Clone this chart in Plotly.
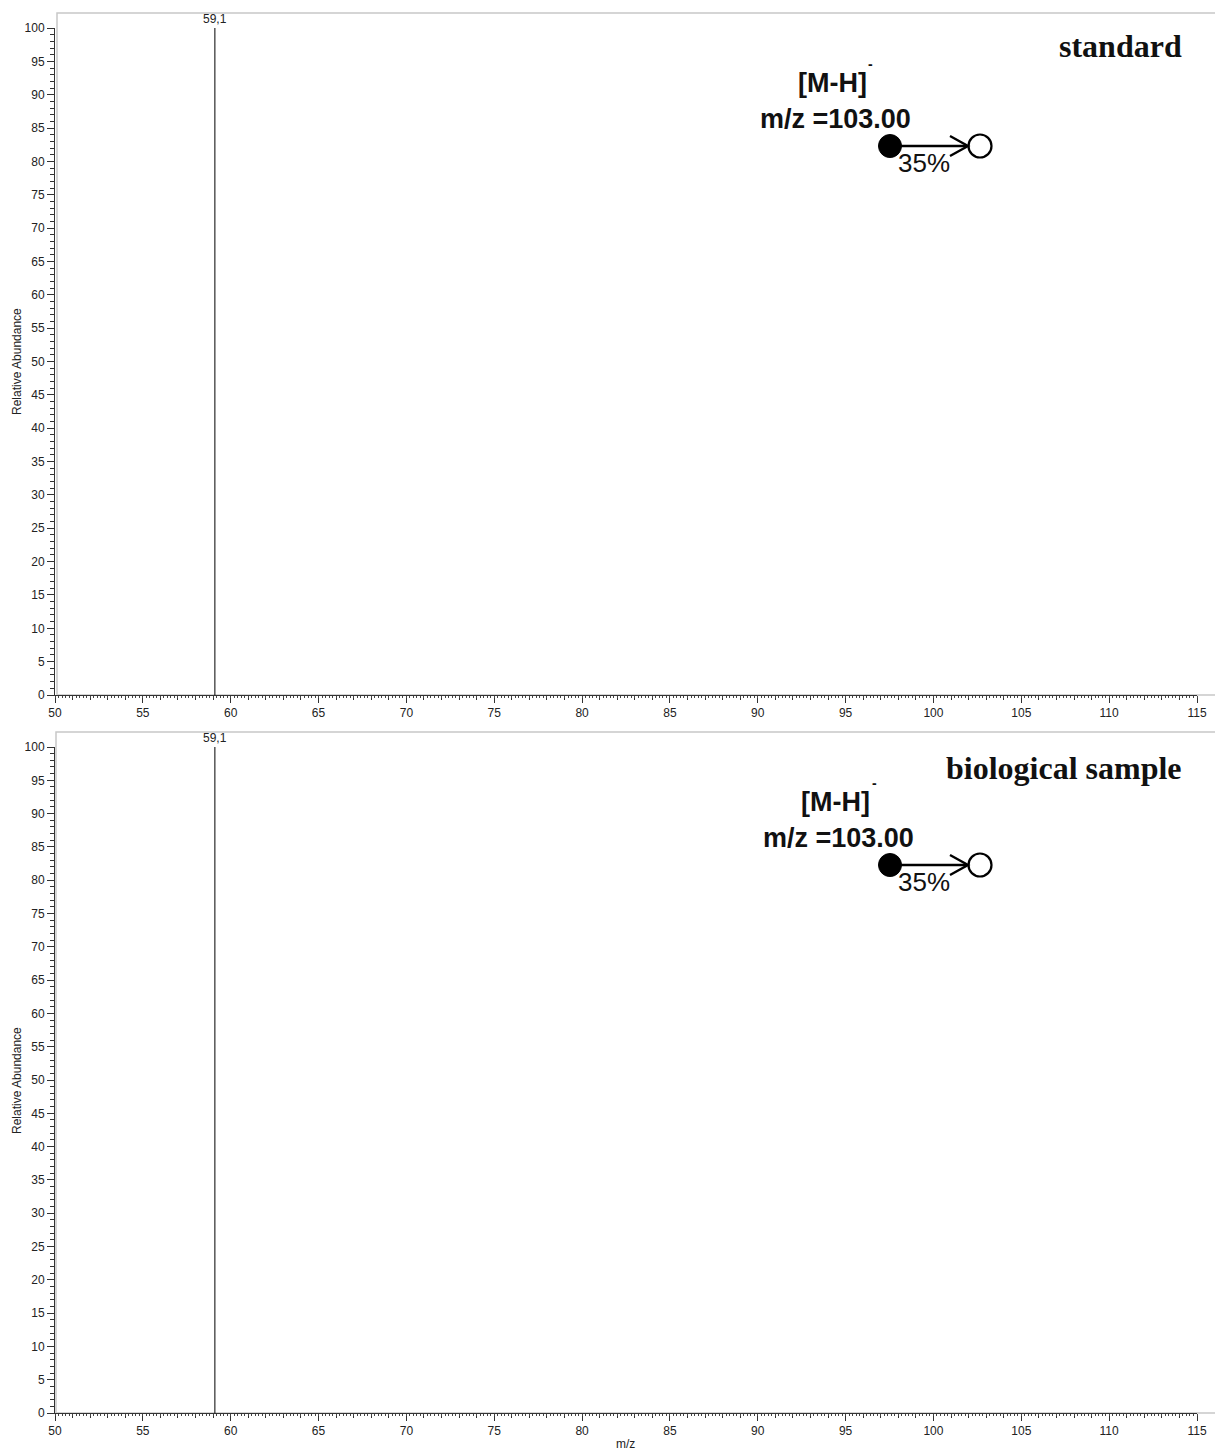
import plotly.graph_objects as go

# ---- data -------------------------------------------------------------
mz_peaks = [59.1]                      # fragment m/z
abundance_standard = [100]             # relative abundance, standard
abundance_sample = [100]               # relative abundance, biological sample
peak_labels = ["59,1"]
panel_titles = ["standard", "biological sample"]
precursor_label = "[M-H]"
precursor_mz = "m/z =103.00"
collision_energy = "35%"

x_range = [50, 115]
x_major = list(range(50, 116, 5))
y_major = list(range(0, 101, 5))

# ---- page geometry (pixels) -----------------------------------------
W, H = 1215, 1452
ML, MR, MT, MB = 55, 18, 28, 39
PW, PH = W - ML - MR, H - MT - MB


def px(xp):
    return (xp - ML) / PW


def py(yp):
    return 1 - (yp - MT) / PH


panels = [
    dict(y_dom=[py(695), py(28)], data=abundance_standard, dy=0),
    dict(y_dom=[py(1413), py(747)], data=abundance_sample, dy=719),
]

fig = go.Figure()

tick_font = dict(family="Liberation Sans, Arial, sans-serif", size=12, color="#222")

for i, p in enumerate(panels):
    xa = "x" if i == 0 else "x2"
    ya = "y" if i == 0 else "y2"
    fig.add_trace(go.Scatter(
        x=[v for m in mz_peaks for v in (m, m, None)],
        y=[v for a in p["data"] for v in (0, a, None)],
        mode="lines", line=dict(color="#000", width=1),
        xaxis=xa, yaxis=ya, showlegend=False, hoverinfo="skip",
        cliponaxis=False,
    ))
    # empty trace so the fine-tick overlay axis gets drawn
    fig.add_trace(go.Scatter(x=[], y=[], xaxis="x3" if i == 0 else "x4",
                             yaxis=ya, showlegend=False, hoverinfo="skip"))
    for m, a, lab in zip(mz_peaks, p["data"], peak_labels):
        fig.add_annotation(x=m, y=a, xref=xa, yref=ya, text=lab,
                           showarrow=False, yanchor="bottom", yshift=0,
                           font=tick_font)

axis_common = dict(
    range=x_range, tickmode="array", tickvals=x_major, ticks="outside",
    ticklen=7, tickwidth=1, tickcolor="#333", showline=True, linecolor="#333",
    linewidth=1, showgrid=False, zeroline=False, tickfont=tick_font,
    minor=dict(dtick=1, ticks="outside", ticklen=4, tickcolor="#333", tickwidth=1),
)
yaxis_common = dict(
    range=[0, 100], tickmode="array", tickvals=y_major, ticks="outside",
    ticklen=7, tickwidth=1, tickcolor="#333", showline=True, linecolor="#333",
    linewidth=1, showgrid=False, zeroline=False, tickfont=tick_font,
    minor=dict(dtick=1, ticks="outside", ticklen=4, tickcolor="#333", tickwidth=1),
)
fine_ticks = dict(
    range=x_range, tickmode="linear", tick0=50, dtick=0.2, ticks="outside",
    ticklen=2, tickwidth=1, tickcolor="#444", showticklabels=False,
    showline=False, showgrid=False, zeroline=False, side="bottom",
)

fig.update_layout(
    xaxis=dict(domain=[0, 1], anchor="y", **axis_common),
    yaxis=dict(domain=panels[0]["y_dom"], anchor="x", **yaxis_common),
    xaxis2=dict(domain=[0, 1], anchor="y2", **axis_common),
    yaxis2=dict(domain=panels[1]["y_dom"], anchor="x2", **yaxis_common),
    xaxis3=dict(overlaying="x", anchor="y", **fine_ticks),
    xaxis4=dict(overlaying="x2", anchor="y2", **fine_ticks),
)

shapes = []
frame = dict(color="#c8c8c8", width=1.5)
for top, left, bottom in [(13, 57, 695), (732, 56, 1413)]:
    shapes.append(dict(type="path", xref="paper", yref="paper", layer="below",
                       path=f"M {px(W)},{py(top)} L {px(left)},{py(top)} "
                            f"L {px(left)},{py(bottom)} L {px(W)},{py(bottom)}",
                       line=frame))

annotations = []
for i, p in enumerate(panels):
    dy = p["dy"]
    # scheme: precursor (filled) -> product (open) at given collision energy
    cy = 146 + dy
    r = 11.5
    shapes.append(dict(type="circle", xref="paper", yref="paper",
                       x0=px(890 - r), x1=px(890 + r), y0=py(cy + r), y1=py(cy - r),
                       fillcolor="#000", line=dict(color="#000", width=1)))
    shapes.append(dict(type="circle", xref="paper", yref="paper",
                       x0=px(980 - r), x1=px(980 + r), y0=py(cy + r), y1=py(cy - r),
                       fillcolor="#fff", line=dict(color="#000", width=2.2)))
    shapes.append(dict(type="line", xref="paper", yref="paper",
                       x0=px(890), x1=px(967), y0=py(cy), y1=py(cy),
                       line=dict(color="#000", width=2.4)))
    shapes.append(dict(type="path", xref="paper", yref="paper",
                       path=f"M {px(950)},{py(cy - 10)} L {px(968)},{py(cy)} "
                            f"L {px(950)},{py(cy + 10)}",
                       line=dict(color="#000", width=2.4)))

    shift = 0 if i == 0 else 3
    annotations += [
        dict(text=f"<b>{panel_titles[i]}</b>", x=px(1184), y=py(46 + (0 if i == 0 else 722)),
             xanchor="right", yanchor="middle",
             font=dict(family="Liberation Serif, Times New Roman, serif", size=32, color="#111")),
        dict(text=f"<b>{precursor_label}</b>", x=px(832 + shift), y=py(83 + dy),
             xanchor="center", yanchor="middle",
             font=dict(family="Liberation Sans, Arial, sans-serif", size=27, color="#111")),
        dict(text="<b>-</b>", x=px(871 + shift), y=py(64 + dy),
             xanchor="center", yanchor="middle",
             font=dict(family="Liberation Sans, Arial, sans-serif", size=14, color="#111")),
        dict(text=f"<b>{precursor_mz}</b>", x=px(835 + shift), y=py(119 + dy),
             xanchor="center", yanchor="middle",
             font=dict(family="Liberation Sans, Arial, sans-serif", size=27, color="#111")),
        dict(text=collision_energy, x=px(924), y=py(163 + dy),
             xanchor="center", yanchor="middle",
             font=dict(family="Liberation Sans, Arial, sans-serif", size=26, color="#111")),
        dict(text="Relative Abundance", x=px(17), y=py(362 + dy), textangle=-90,
             xanchor="center", yanchor="middle", font=tick_font),
    ]

annotations.append(dict(text="m/z", x=px(625), y=py(1444), xanchor="center",
                        yanchor="middle", font=tick_font))
for a in annotations:
    a.update(xref="paper", yref="paper", showarrow=False)
    fig.add_annotation(**a)

fig.update_layout(
    width=W, height=H, margin=dict(l=ML, r=MR, t=MT, b=MB, autoexpand=False),
    paper_bgcolor="#fff", plot_bgcolor="#fff", shapes=shapes, showlegend=False,
)

fig.write_html("out.html")
